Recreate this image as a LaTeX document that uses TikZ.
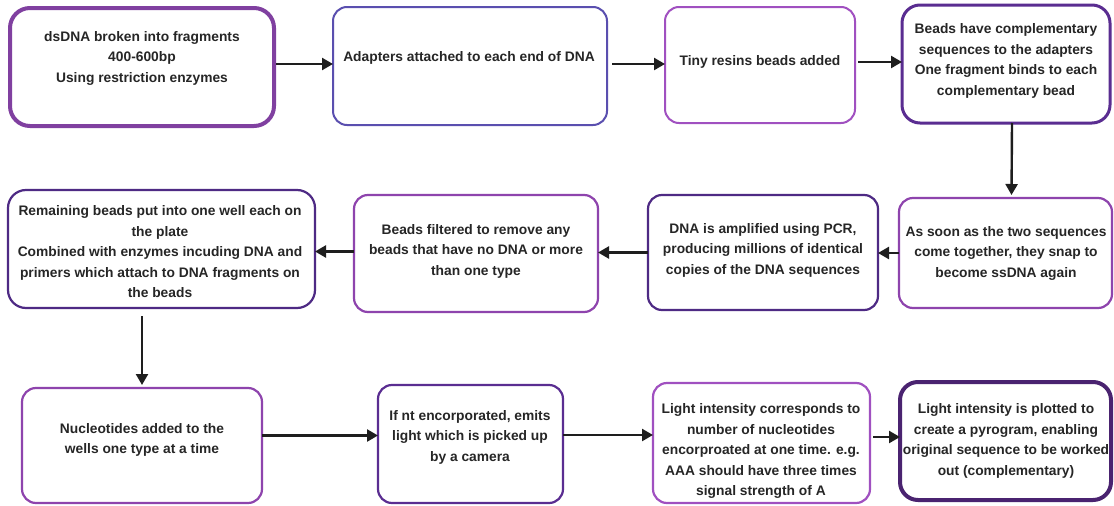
\documentclass[tikz,border=0pt]{standalone}
\usepackage{fontspec}
\setmainfont{Liberation Sans}
\usetikzlibrary{arrows.meta}
\definecolor{pA}{HTML}{8040A0}
\definecolor{pB}{HTML}{5A4FAF}
\definecolor{pC}{HTML}{A050C0}
\definecolor{pD}{HTML}{5A2D91}
\definecolor{pE}{HTML}{8E44AD}
\definecolor{pF}{HTML}{4E2A84}
\definecolor{pG}{HTML}{4A2370}
\definecolor{txt}{HTML}{262626}
\definecolor{arc}{HTML}{1E1E1E}
\begin{document}
\begin{tikzpicture}[x=1pt,y=-1pt,
  box/.style={draw=#1, fill=white, rounded corners=14pt, inner sep=0pt, outer sep=0pt, line width=2.2pt},
  lbl/.style={text=txt, align=center, inner sep=0pt, font=\fontsize{13.8}{20.5}\selectfont\bfseries},
  arr/.style={draw=arc, line width=2.4pt, -{Triangle[length=11pt,width=12pt]}}]
\useasboundingbox[fill=white] (0,0) rectangle (1114,506);
% row 1
\node[box=pA, line width=4pt, rounded corners=20pt, minimum width=264pt, minimum height=118pt] (b1) at (142,67) {};
\node[box=pB, line width=2pt, minimum width=274pt, minimum height=118pt] (b2) at (470,66) {};
\node[box=pC, line width=2pt, minimum width=190pt, minimum height=116pt] (b3) at (760,65) {};
\node[box=pD, line width=3pt, rounded corners=18pt, minimum width=208pt, minimum height=118pt] (b4) at (1006,64) {};
% row 2
\node[box=pE, minimum width=213pt, minimum height=110pt] (r24) at (1005.5,253) {};
\node[box=pF, minimum width=230pt, minimum height=115pt] (r23) at (763,252.5) {};
\node[box=pE, minimum width=244pt, minimum height=117pt] (r22) at (476,253.5) {};
\node[box=pF, rounded corners=18pt, minimum width=307pt, minimum height=118pt] (r21) at (161.5,249) {};
% row 3
\node[box=pE, minimum width=240pt, minimum height=115pt] (r31) at (142,445.5) {};
\node[box=pD, minimum width=185pt, minimum height=118pt] (r32) at (470.5,444) {};
\node[box=pC, minimum width=217pt, minimum height=120pt] (r33) at (761.5,443) {};
\node[box=pG, line width=4pt, rounded corners=18pt, minimum width=211pt, minimum height=118pt] (r34) at (1005.5,441) {};
% labels
\node[lbl] (t1) at (142,58) {dsDNA broken into fragments\\400-600bp\\Using restriction enzymes};
\node[lbl] (t2) at (469,58) {Adapters attached to each end of DNA};
\node[lbl] (t3) at (760,62) {Tiny resins beads added};
\node[lbl] (t4) at (1006,61) {Beads have complementary\\sequences to the adapters\\One fragment binds to each\\complementary bead};
\node[lbl] (t5) at (1006,253) {As soon as the two sequences\\come together, they snap to\\become ssDNA again};
\node[lbl] (t6) at (763,250) {DNA is amplified using PCR,\\producing millions of identical\\copies of the DNA sequences};
\node[lbl] (t7) at (476,251) {Beads filtered to remove any\\beads that have no DNA or more\\than one type};
\node[lbl] (t8) at (160,252) {Remaining beads put into one well each on\\the plate\\Combined with enzymes incuding DNA and\\primers which attach to DNA fragments on\\the beads};
\node[lbl] (t9) at (142,440) {Nucleotides added to the\\wells one type at a time};
\node[lbl] (t10) at (470,437) {If nt encorporated, emits\\light which is picked up\\by a camera};
\node[lbl] (t11) at (761,451) {Light intensity corresponds to\\number of nucleotides\\encorproated at one time. e.g.\\AAA should have three times\\signal strength of A};
\node[lbl] (t12) at (1006,441) {Light intensity is plotted to\\create a pyrogram, enabling\\original sequence to be worked\\out (complementary)};
% connectors
\draw[arr, shorten <=2pt] ([yshift=3pt]b1.east) -- ([yshift=3pt]b1.east -| b2.west);
\draw[arr, shorten <=5pt] ([yshift=2pt]b2.east) -- ([yshift=2pt]b2.east -| b3.west);
\draw[arr, shorten <=3pt] ([yshift=3pt]b3.east) -- ([yshift=3pt]b3.east -| b4.west);
\draw[arr, shorten >=3pt] ([xshift=6pt]b4.south) -- ([xshift=6pt]r24.north);
\draw[arr] (r24.west) -- (r24.west -| r23.east);
\draw[arr] (r23.west) -- (r23.west -| r22.east);
\draw[arr] ([yshift=2pt]r22.west) -- ([yshift=2pt]r22.west -| r21.east);
\draw[arr, shorten <=8pt, shorten >=3pt] (r21.south -| r31.north) -- (r31.north);
\draw[arr] ([yshift=10pt]r31.east) -- ([yshift=10pt]r31.east -| r32.west);
\draw[arr] ([yshift=9pt]r32.east) -- ([yshift=9pt]r32.east -| r33.west);
\draw[arr, shorten <=3pt] ([yshift=6pt]r33.east) -- ([yshift=6pt]r33.east -| r34.west);
\end{tikzpicture}
\end{document}
